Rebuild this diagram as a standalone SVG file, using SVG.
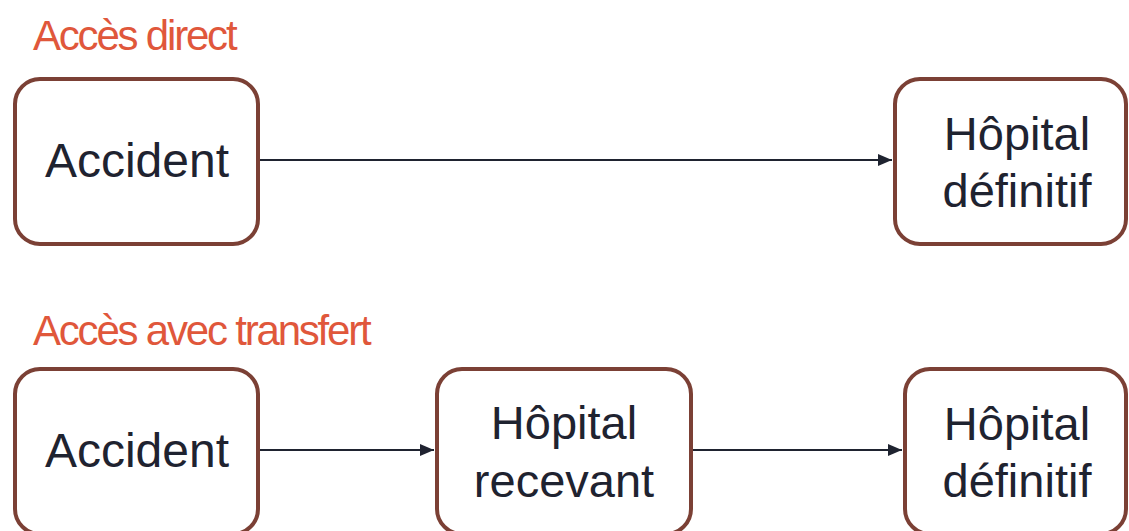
<svg xmlns="http://www.w3.org/2000/svg" width="1129" height="531" viewBox="0 0 1129 531">
<defs>
<style>
.box{fill:#fff;stroke:#7b4035;stroke-width:4}
.t{font-family:"Liberation Sans",Arial,sans-serif;font-size:47px;fill:#1f2330;text-anchor:middle}
.a{font-size:48px}
.h{font-family:"Liberation Sans",Arial,sans-serif;font-size:42px;fill:#e0573b;letter-spacing:-2.2px}
.c{stroke:#1f2330;stroke-width:2;fill:none}
</style>
<marker id="ah" viewBox="0 0 14 12" refX="14" refY="6" markerWidth="14" markerHeight="12" markerUnits="userSpaceOnUse" orient="auto">
<path d="M0,0 L14,6 L0,12 Z" fill="#1f2330"/>
</marker>
</defs>
<rect width="1129" height="531" fill="#fff"/>
<text class="h" x="33" y="50">Accès direct</text>
<text class="h" x="33" y="345">Accès avec transfert</text>
<g id="connectors">
<line class="c" x1="260" y1="160" x2="892" y2="160" marker-end="url(#ah)"/>
<line class="c" x1="260" y1="450" x2="434" y2="450" marker-end="url(#ah)"/>
<line class="c" x1="693" y1="450" x2="902" y2="450" marker-end="url(#ah)"/>
</g>
<g id="accident1">
<rect class="box" x="15" y="79" width="243" height="165" rx="25"/>
<text class="t a" x="137" y="177">Accident</text>
</g>
<g id="hopital-definitif1">
<rect class="box" x="895" y="79" width="231" height="165" rx="25"/>
<text class="t" x="1017" y="150">Hôpital</text>
<text class="t" x="1017" y="207">définitif</text>
</g>
<g id="accident2">
<rect class="box" x="15" y="369" width="243" height="165" rx="25"/>
<text class="t a" x="137" y="467">Accident</text>
</g>
<g id="hopital-recevant">
<rect class="box" x="437" y="369" width="254" height="165" rx="25"/>
<text class="t" x="564" y="439">Hôpital</text>
<text class="t" x="564" y="497">recevant</text>
</g>
<g id="hopital-definitif2">
<rect class="box" x="905" y="369" width="221" height="165" rx="25"/>
<text class="t" x="1017" y="440">Hôpital</text>
<text class="t" x="1017" y="497">définitif</text>
</g>
</svg>
